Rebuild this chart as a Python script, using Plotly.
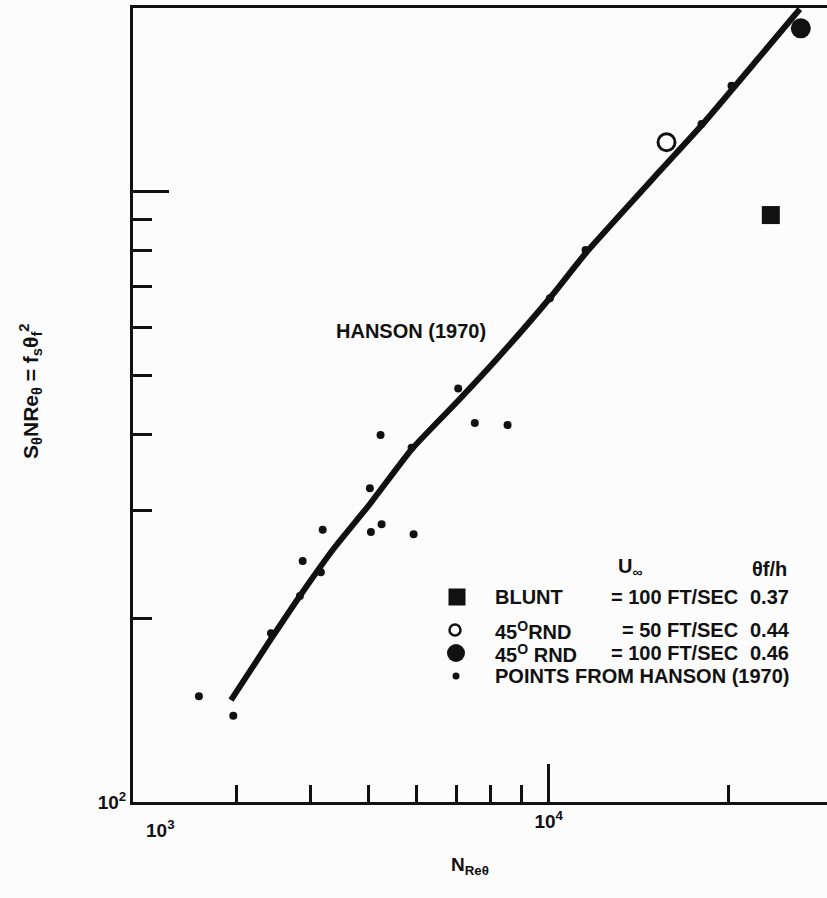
import plotly.graph_objects as go

# Hanson (1970) correlation curve: S_theta * N_Re_theta versus N_Re_theta
curve_re = [2942, 3432, 3836, 4390, 5023, 5905, 7050, 8191, 10047, 11541, 15346, 18043, 22381, 26310]
curve_s = [146.9, 185.0, 217.6, 261.7, 307.8, 378.8, 454.0, 531.9, 669.6, 793.7, 1081, 1286, 1650, 1992]

# Points from Hanson (1970)
hanson_re = [2600, 2968, 3432, 3836, 3877, 4159, 4188, 5023, 5043, 5255, 5234, 5898, 5944,
             7058, 7525, 8536, 10047, 11527, 18021, 20223]
hanson_s = [149.0, 138.5, 189.0, 217.6, 248.3, 237.9, 279.3, 326.6, 277.0, 285.1, 399.3, 380.6, 274.6,
            476.0, 417.8, 414.7, 668.8, 802.3, 1291, 1492]

# Present measurements
blunt_re, blunt_s = [23530], [915.6]
rnd50_re, rnd50_s = [15746], [1205]
rnd100_re, rnd100_s = [26410], [1852]

# Legend table
legend_names = ["BLUNT", "45<sup>O</sup>RND", "45<sup>O</sup> RND", "POINTS FROM HANSON (1970)"]
legend_speeds = ["= 100 FT/SEC", "= 50 FT/SEC", "= 100 FT/SEC", ""]
legend_ratios = ["0.37", "0.44", "0.46", ""]

# Axis ticks
x_major = [10000]
x_major_text = ["10<sup>4</sup>"]
x_minor = [3000, 4000, 5000, 6000, 7000, 8000, 9000, 20000]
y_major = [100, 1000]
y_major_text = ["10<sup>2</sup>", " "]
y_minor = [200, 300, 400, 500, 600, 700, 800, 900]

INK = "#111111"
BG = "#fcfcfc"
FONT = "Liberation Sans"

W, H = 827, 898
L, R, T, B = 133, 0, 8, 96
PW, PH = W - L - R, H - T - B


def px(x):
    return (x - L) / PW


def py(y):
    return (H - B - y) / PH


def label(x, y, text, size=20, anchor="left", angle=0):
    return dict(x=px(x), y=py(y), xref="paper", yref="paper", text=text,
                xanchor=anchor, yanchor="middle", showarrow=False, textangle=angle,
                font=dict(family=FONT, size=size, color=INK, weight=700))


fig = go.Figure()

fig.add_trace(go.Scatter(x=curve_re, y=curve_s, mode="lines",
                         line=dict(color=INK, width=6, shape="spline", smoothing=0.5),
                         showlegend=False, hoverinfo="skip"))
fig.add_trace(go.Scatter(x=hanson_re, y=hanson_s, mode="markers",
                         marker=dict(color=INK, size=8), showlegend=False))
fig.add_trace(go.Scatter(x=blunt_re, y=blunt_s, mode="markers",
                         marker=dict(symbol="square", color=INK, size=18), showlegend=False))
fig.add_trace(go.Scatter(x=rnd50_re, y=rnd50_s, mode="markers",
                         marker=dict(symbol="circle-open", color=INK, size=17,
                                     line=dict(width=3, color=INK)), showlegend=False))
fig.add_trace(go.Scatter(x=rnd100_re, y=rnd100_s, mode="markers",
                         marker=dict(symbol="circle", color=INK, size=20), showlegend=False))

# Legend keys, placed on an overlay axis laid out in pixels
row_y = [597, 630, 653, 676]
key_x = [457, 455, 456, 456]
key_symbols = ["square", "circle-open", "circle", "circle"]
key_sizes = [17, 11, 18, 7]
for kx, ky, sym, sz in zip(key_x, row_y, key_symbols, key_sizes):
    fig.add_trace(go.Scatter(x=[kx], y=[ky], mode="markers", xaxis="x2", yaxis="y2",
                             marker=dict(symbol=sym, size=sz, color=INK,
                                         line=dict(width=2.5 if sym == "circle-open" else 0, color=INK)),
                             showlegend=False, hoverinfo="skip"))

ann = []
for name, spd, rat, yy in zip(legend_names, legend_speeds, legend_ratios, row_y):
    ann.append(label(493, yy, name))
    if spd:
        ann.append(label(740, yy, spd, anchor="right"))
        ann.append(label(748, yy, rat))
ann.append(label(630, 567, "U<sub>∞</sub>", anchor="center"))
ann.append(label(769, 569, "θf/h", anchor="center"))
ann.append(label(411, 331, "HANSON (1970)", size=20, anchor="center"))
ann.append(label(160, 829, "10<sup>3</sup>", size=19, anchor="center"))
ann.append(label(470, 866, "N<sub>Reθ</sub>", size=19, anchor="center"))
ann.append(label(30, 392, "S<sub>θ</sub>NRe<sub>θ</sub> = f<sub>s</sub>θ<sub>f</sub><sup>2</sup>",
                 size=21, anchor="center", angle=-90))

tick_font = dict(family=FONT, size=19, color=INK, weight=700)

fig.update_layout(
    width=W, height=H,
    margin=dict(l=L, r=R, t=T, b=B, pad=0),
    paper_bgcolor=BG, plot_bgcolor=BG,
    showlegend=False,
    annotations=ann,
    xaxis=dict(type="log", range=[3.3047, 4.4656], showgrid=False, zeroline=False,
               showline=True, linewidth=3, linecolor=INK, mirror=True,
               ticks="inside", ticklen=38, tickwidth=3, tickcolor=INK,
               tickmode="array", tickvals=x_major, ticktext=x_major_text,
               tickfont=tick_font,
               minor=dict(tickmode="array", tickvals=x_minor, ticks="inside",
                          ticklen=17, tickwidth=3, tickcolor=INK, showgrid=False)),
    yaxis=dict(type="log", range=[2, 3.301], showgrid=False, zeroline=False,
               showline=True, linewidth=3, linecolor=INK, mirror=False,
               ticks="inside", ticklen=36, tickwidth=3, tickcolor=INK,
               tickmode="array", tickvals=y_major, ticktext=y_major_text,
               tickfont=tick_font,
               minor=dict(tickmode="array", tickvals=y_minor, ticks="inside",
                          ticklen=19, tickwidth=3, tickcolor=INK, showgrid=False)),
    xaxis2=dict(overlaying="x", anchor="y", range=[L, W - R], visible=False, fixedrange=True),
    yaxis2=dict(overlaying="y", anchor="x", range=[H - B, T], visible=False, fixedrange=True),
)

fig.write_html("out.html")
